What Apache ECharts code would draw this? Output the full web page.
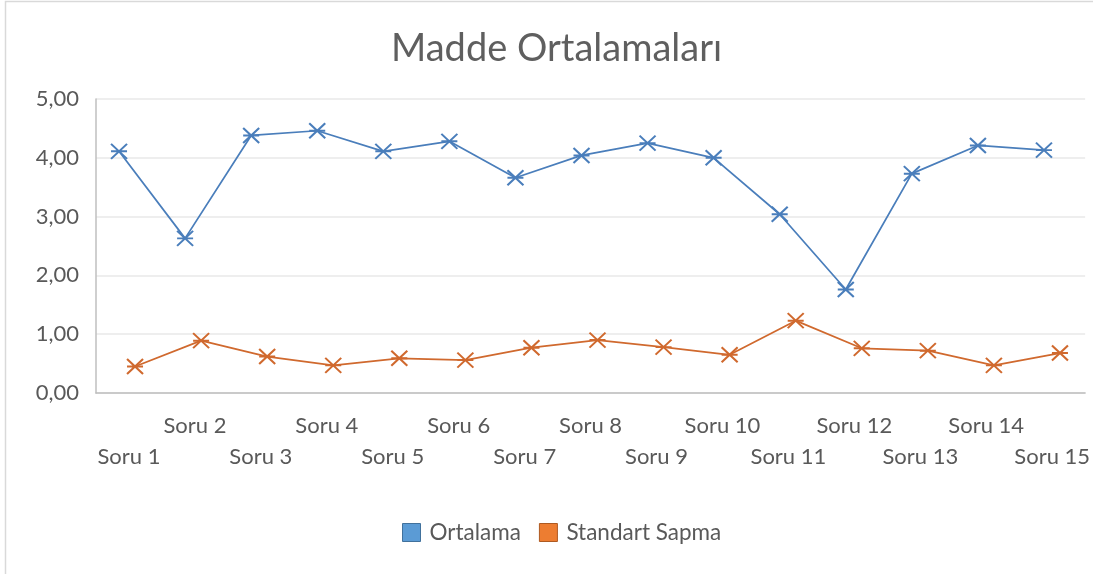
<!DOCTYPE html>
<html>
<head>
<meta charset="utf-8">
<script src="https://cdn.jsdelivr.net/npm/echarts@6/dist/echarts.min.js"></script>
<style>
  html, body { margin: 0; padding: 0; background: #ffffff; }
  #chart { width: 1093px; height: 574px; }
</style>
</head>
<body>
<div id="chart"></div>
<script>
const categories = ['Soru 1', 'Soru 2', 'Soru 3', 'Soru 4', 'Soru 5', 'Soru 6', 'Soru 7', 'Soru 8',
  'Soru 9', 'Soru 10', 'Soru 11', 'Soru 12', 'Soru 13', 'Soru 14', 'Soru 15'];
const ortalama = [4.11, 2.63, 4.38, 4.46, 4.11, 4.28, 3.66, 4.04, 4.25, 4.00, 3.04, 1.76, 3.73, 4.21, 4.13];
const standartSapma = [0.45, 0.89, 0.62, 0.47, 0.59, 0.56, 0.77, 0.90, 0.78, 0.65, 1.23, 0.76, 0.72, 0.47, 0.68];
const yMin = 0, yMax = 5, yStep = 1;

const FONT = 'Lato';
const TXT = '#595959';
const starPath = 'path://M0,0L12,11M12,0L0,11M0,5.5L12,5.5';

const chart = echarts.init(document.getElementById('chart'), null, { renderer: 'canvas' });
const hiddenX = (gi) => ({ gridIndex: gi, type: 'category', data: categories, show: false });
const hiddenY = (gi) => ({ gridIndex: gi, type: 'value', min: yMin, max: yMax, interval: yStep, show: false });

chart.setOption({
  backgroundColor: '#ffffff',
  animation: false,
  graphic: [{
    type: 'rect', silent: true, z: -10,
    shape: { x: 5.5, y: 1.5, width: 1200, height: 700 },
    style: { fill: 'none', stroke: '#d9d9d9', lineWidth: 1.5 }
  }],
  title: {
    text: 'Madde Ortalamaları',
    left: 386, top: 25,
    textStyle: { fontFamily: FONT, fontSize: 38, fontWeight: 'normal', color: '#5f5f5f' }
  },
  legend: {
    left: 397, top: 516,
    itemWidth: 18, itemHeight: 18, itemGap: 18,
    textStyle: { fontFamily: FONT, fontSize: 22.5, color: TXT, padding: [0, 0, 0, 4] },
    data: [
      { name: 'Ortalama', icon: 'rect', itemStyle: { color: '#5b9bd5', borderColor: '#41719c', borderWidth: 1 } },
      { name: 'Standart Sapma', icon: 'rect', itemStyle: { color: '#ed7d31', borderColor: '#ae5a21', borderWidth: 1 } }
    ]
  },
  grid: [
    { left: 96, right: 6, top: 99, bottom: 181 },
    { left: 86, right: 16, top: 99, bottom: 181 },
    { left: 102, right: 0, top: 99, bottom: 181 }
  ],
  xAxis: [
    {
      gridIndex: 0, type: 'category', data: categories, boundaryGap: true,
      axisLine: { lineStyle: { color: '#bfbfbf', width: 1.5 } },
      axisTick: { show: false },
      axisLabel: {
        interval: 0, margin: 17, color: TXT, fontFamily: FONT, fontSize: 22, lineHeight: 31,
        hideOverlap: false,
        formatter: (v, i) => (i % 2 === 1 ? v : '\n' + v)
      }
    },
    hiddenX(1), hiddenX(2)
  ],
  yAxis: [
    {
      gridIndex: 0, type: 'value', min: yMin, max: yMax, interval: yStep,
      axisLine: { show: true, lineStyle: { color: '#bfbfbf', width: 1.5 } },
      axisTick: { show: false },
      splitLine: { lineStyle: { color: '#e8e8e8', width: 1.5 } },
      axisLabel: {
        margin: 17, color: TXT, fontFamily: FONT, fontSize: 22,
        formatter: (v) => v.toFixed(2).replace('.', ',')
      }
    },
    hiddenY(1), hiddenY(2)
  ],
  series: [
    {
      name: 'Ortalama', type: 'line', xAxisIndex: 1, yAxisIndex: 1, data: ortalama,
      symbol: starPath, symbolSize: [16, 15], showAllSymbol: true,
      lineStyle: { color: '#4a7ebb', width: 1.75 },
      itemStyle: { color: '#4a7ebb', borderColor: '#4a7ebb', borderWidth: 2 }
    },
    {
      name: 'Standart Sapma', type: 'line', xAxisIndex: 2, yAxisIndex: 2, data: standartSapma,
      symbol: starPath, symbolSize: [16, 15], showAllSymbol: true,
      lineStyle: { color: '#d0692e', width: 1.75 },
      itemStyle: { color: '#d0692e', borderColor: '#d0692e', borderWidth: 2 }
    }
  ]
});
</script>
</body>
</html>
